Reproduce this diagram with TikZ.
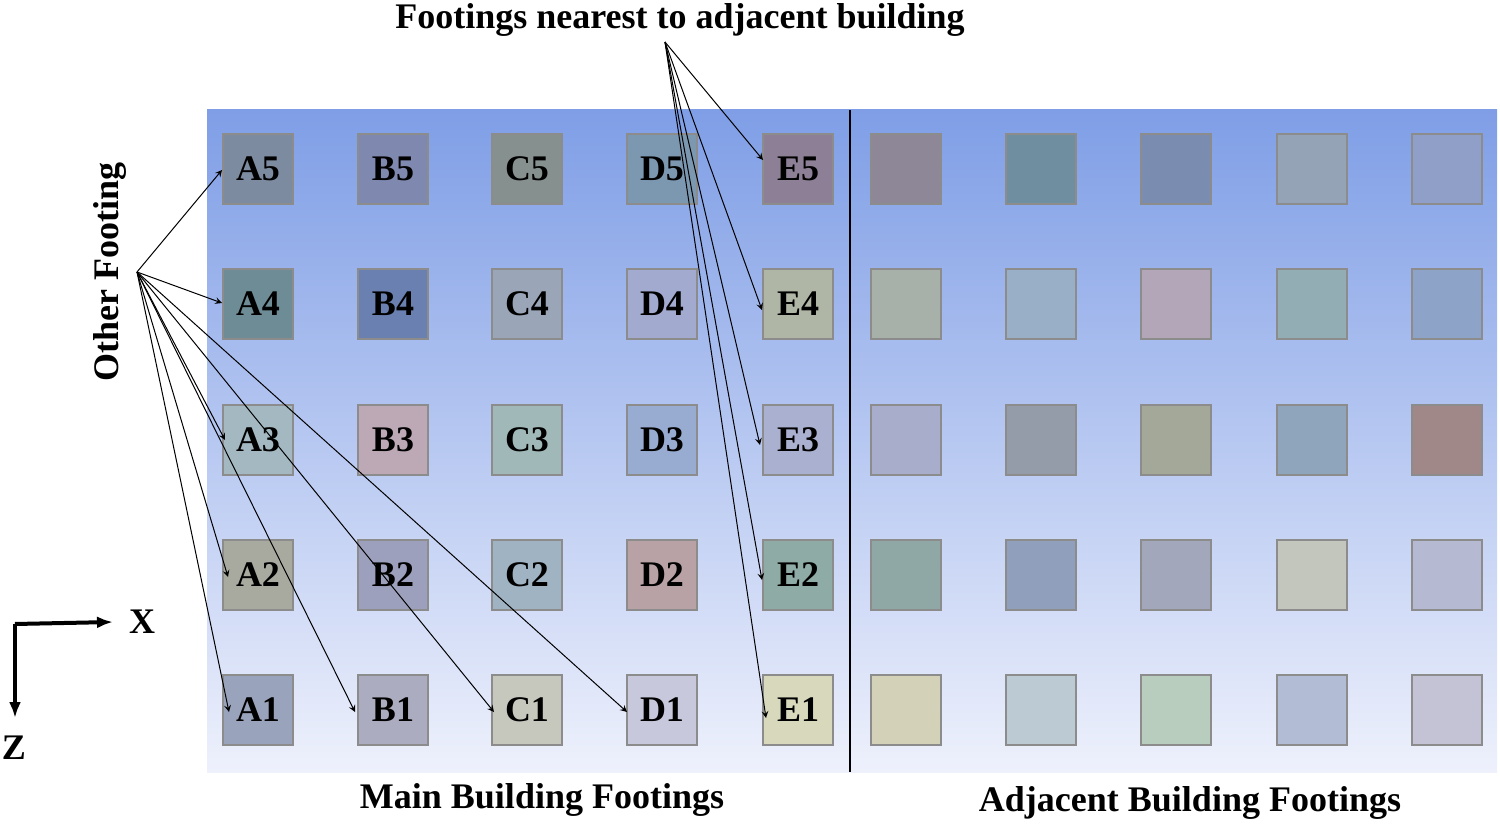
\documentclass[tikz,border=0pt]{standalone}
\usepackage{fontspec}
\setmainfont{Liberation Serif}
\usetikzlibrary{arrows.meta}
\begin{document}
\begin{tikzpicture}[x=0.5pt,y=-0.5pt,
  sq/.style={draw=black!45,line width=0.6pt,minimum width=35pt,minimum height=35pt,inner sep=0pt,font=\bfseries\fontsize{18}{18}\selectfont},
  lbl/.style={font=\bfseries\fontsize{18}{18}\selectfont},
  arr/.style={->,line width=0.5pt,>=stealth}]
\useasboundingbox (0,0) rectangle (1500,824);
\shade[top color={rgb,255:red,127;green,158;blue,230},bottom color={rgb,255:red,238;green,241;blue,252}] (207,110) rectangle (1497,772);
\draw[line width=1.2pt] (850,110) -- (850,772);
\def\rows{{710,575,440,304,169}}
\foreach \r/\rl/\cA/\cB/\cC/\cD/\cE/\cF/\cG/\cH/\cI/\cJ in {
 4/5/7d8ba0/7f89b0/85908f/7c98b0/8d7f95/8e8798/6f8fa0/7a8cb0/95a3b6/909fc8,
 3/4/6e8c95/6a80b0/9aa6b8/a3aad0/b0b6a5/a8b0aa/99afc8/b2a6b8/93adb5/8ea3c8,
 2/3/a3b8c0/bca9b5/a0b8b8/98abd0/aab0d0/a8adcc/939ca8/a4a898/8ea5bc/a08888,
 1/2/a8aa9f/9da0bc/9fb3c3/b9a2a6/8faba5/8fa8a5/8f9fbc/a3a7bb/c2c6bd/b5b9d2,
 0/1/9aa3bc/acacc0/c6c8bd/c8c8dc/d8d8bd/d3d1b8/bccbd3/b8cdbe/b2bdd5/c4c3d6}{
  \pgfmathsetmacro\yy{\rows[\r]}
  \definecolor{kA}{HTML}{\cA}\definecolor{kB}{HTML}{\cB}\definecolor{kC}{HTML}{\cC}
  \definecolor{kD}{HTML}{\cD}\definecolor{kE}{HTML}{\cE}\definecolor{kF}{HTML}{\cF}
  \definecolor{kG}{HTML}{\cG}\definecolor{kH}{HTML}{\cH}\definecolor{kI}{HTML}{\cI}
  \definecolor{kJ}{HTML}{\cJ}
  \node[sq,fill=kA] (A\rl) at (258,\yy) {A\rl};
  \node[sq,fill=kB] (B\rl) at (393,\yy) {B\rl};
  \node[sq,fill=kC] (C\rl) at (527,\yy) {C\rl};
  \node[sq,fill=kD] (D\rl) at (662,\yy) {D\rl};
  \node[sq,fill=kE] (E\rl) at (798,\yy) {E\rl};
  \node[sq,fill=kF] (F\rl) at (906,\yy) {};
  \node[sq,fill=kG] (G\rl) at (1041,\yy) {};
  \node[sq,fill=kH] (H\rl) at (1176,\yy) {};
  \node[sq,fill=kI] (I\rl) at (1312,\yy) {};
  \node[sq,fill=kJ] (J\rl) at (1447,\yy) {};
}
\node[lbl] (top) at (680,20) {Footings nearest to adjacent building};
\node[lbl,rotate=90] (other) at (110,272) {Other Footing};
\node[lbl] (main) at (542,800) {Main Building Footings};
\node[lbl] (adj) at (1190,803) {Adjacent Building Footings};
\coordinate (o) at (137,272);
\coordinate (t) at (665,42);
\draw[arr] (o) -- (222,170);
\draw[arr] (o) -- (222,303);
\draw[arr] (o) -- (225,440);
\draw[arr] (o) -- (228,577);
\draw[arr] (o) -- (229,712);
\draw[arr] (o) -- (355,712);
\draw[arr] (o) -- (494,712);
\draw[arr] (o) -- (627,712);
\draw[arr] (t) -- (763,160);
\draw[arr] (t) -- (762,310);
\draw[arr] (t) -- (760,445);
\draw[arr] (t) -- (762,580);
\draw[arr] (t) -- (766,718);
\coordinate (ax) at (15,624);
\node[lbl] (X) at (142,622) {X};
\node[lbl] (Z) at (14,748) {Z};
\draw[line width=2pt,-{Latex[length=8pt]}] (ax) -- (113,622);
\draw[line width=2pt,-{Latex[length=8pt]}] (ax) -- (15,718);
\end{tikzpicture}
\end{document}
